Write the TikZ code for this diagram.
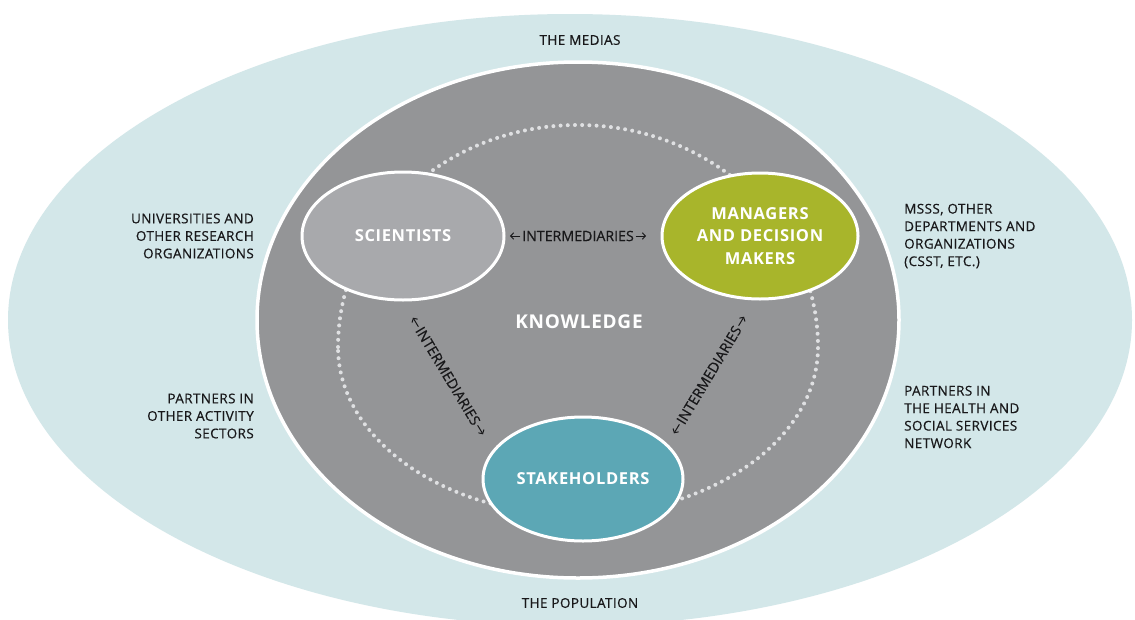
\documentclass[tikz,border=0pt]{standalone}
\usepackage{fontspec}
\setmainfont{Open Sans}
\newfontfamily\widesans[LetterSpace=4]{Open Sans}
\newfontfamily\labelsans[LetterSpace=3,FakeBold=0.5]{Open Sans}
\newfontfamily\intersans[FakeBold=0.5]{Open Sans}
\usetikzlibrary{shapes.geometric,arrows.meta,calc}
\definecolor{outerblue}{HTML}{D3E7E9}
\definecolor{knowgray}{HTML}{949597}
\definecolor{scigray}{HTML}{A8A9AC}
\definecolor{mgrgreen}{HTML}{A8B52B}
\definecolor{stkteal}{HTML}{5CA7B5}
\definecolor{dotcol}{HTML}{DFE0E2}
\definecolor{ink}{HTML}{18181A}
\tikzset{
  actor/.style={ellipse, draw=white, line width=3pt, inner sep=0pt, text=white,
    align=center, font=\widesans\bfseries\fontsize{16.5}{22.5}\selectfont},
  outerlabel/.style={text=ink, font=\labelsans\fontsize{13.5}{17.5}\selectfont, inner sep=0pt},
  interlabel/.style={text=ink, font=\intersans\fontsize{14.2}{15}\selectfont, inner sep=0pt},
  interarrow/.style={draw=ink, line width=1pt, -{Straight Barb[length=3pt,width=6.5pt]}, shorten <=1.5pt},
  dotline/.style={draw=dotcol, line width=4pt, line cap=round, dash pattern=on 0pt off 7.2pt}
}
\begin{document}
\begin{tikzpicture}[x=1pt,y=-1pt]
\useasboundingbox (0,0) rectangle (1135,619);
\fill[white] (0,0) rectangle (1135,619);
% outer field
\node[ellipse, fill=outerblue, inner sep=0pt, minimum width=1124pt, minimum height=612pt] (outer) at (570,320) {};
% knowledge field
\node[ellipse, fill=knowgray, draw=white, line width=3.5pt, inner sep=0pt, minimum width=642pt, minimum height=516pt] (know) at (578,320) {};
% dotted loop
\draw[dotline] (338,347) arc[start angle=180, end angle=360, x radius=240, y radius=222]
  arc[start angle=0, end angle=180, x radius=240, y radius=168];
% actors
\node[actor, fill=scigray, minimum width=202pt, minimum height=128pt] (sci) at (403,236) {SCIENTISTS};
\node[actor, fill=mgrgreen, minimum width=196pt, minimum height=126pt] (mgr) at (760,236) {MANAGERS\\AND DECISION\\MAKERS};
\node[actor, fill=stkteal, minimum width=200pt, minimum height=124pt] (stk) at (583,479) {STAKEHOLDERS};
\node[text=white, font=\widesans\bfseries\fontsize{19}{22}\selectfont, inner sep=0pt] (knowledge) at (579,322) {KNOWLEDGE};
% intermediaries
\node[interlabel] (imh) at (578,236) {INTERMEDIARIES};
\node[interlabel, rotate=-59] (iml) at (448,376) {INTERMEDIARIES};
\node[interlabel, rotate=59] (imr) at (709,375) {INTERMEDIARIES};
\foreach \n in {imh,iml,imr}{
  \draw[interarrow] (\n.west) -- ($(\n.west)!-12pt!(\n.east)$);
  \draw[interarrow] (\n.east) -- ($(\n.east)!-12pt!(\n.west)$);
}
% outer labels
\node[outerlabel] (medias) at (580,40) {THE MEDIAS};
\node[outerlabel] (population) at (580,603) {THE POPULATION};
\node[outerlabel, anchor=east, align=right] (univ) at (254,236) {UNIVERSITIES AND\\OTHER RESEARCH\\ORGANIZATIONS};
\node[outerlabel, anchor=east, align=right] (partners) at (254,416) {PARTNERS IN\\OTHER ACTIVITY\\SECTORS};
\node[outerlabel, anchor=west, align=left] (msss) at (904,236) {MSSS, OTHER\\DEPARTMENTS AND\\ORGANIZATIONS\\(CSST, ETC.)};
\node[outerlabel, anchor=west, align=left] (network) at (904,417) {PARTNERS IN\\THE HEALTH AND\\SOCIAL SERVICES\\NETWORK};
\end{tikzpicture}
\end{document}
